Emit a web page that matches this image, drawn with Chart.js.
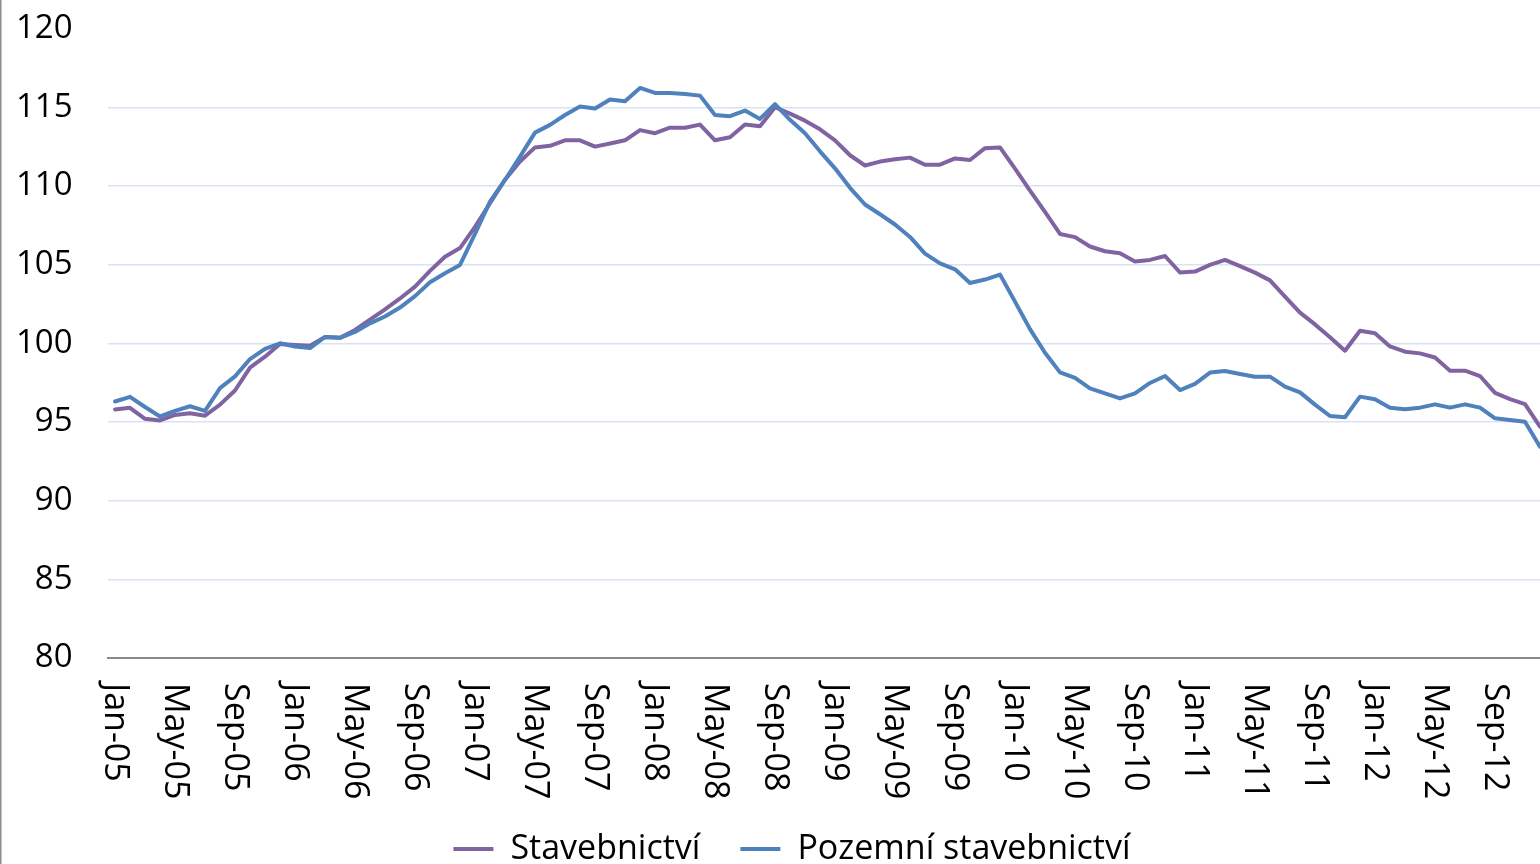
<!DOCTYPE html>
<html><head><meta charset="utf-8">
<script src="https://cdn.jsdelivr.net/npm/chart.js@4.4.1/dist/chart.umd.min.js"></script>
<style>
html,body{margin:0;padding:0;background:#fff;overflow:hidden;width:1540px;height:864px;}
#wrap{position:absolute;left:0;top:0;width:1584px;height:880px;}
</style></head><body>
<div id="wrap"><canvas id="c"></canvas></div>
<script>
const monthNames = ['Jan','Feb','Mar','Apr','May','Jun','Jul','Aug','Sep','Oct','Nov','Dec'];
const years = ['05','06','07','08','09','10','11','12'];
const categories = years.flatMap(y => monthNames.map(m => m + '-' + y));

const seriesNames = ['Stavebnictví', 'Pozemní stavebnictví'];

const stavebnictvi = [
  95.8, 95.9, 95.2, 95.1, 95.45, 95.55, 95.4, 96.1, 97.0, 98.45, 99.15, 99.95,
  99.9, 99.85, 100.4, 100.35, 100.85, 101.5, 102.15, 102.85, 103.6, 104.6, 105.5, 106.05,
  107.4, 108.9, 110.4, 111.55, 112.45, 112.55, 112.9, 112.9, 112.5, 112.7, 112.9, 113.55,
  113.35, 113.7, 113.7, 113.9, 112.9, 113.1, 113.9, 113.8, 115.0, 114.6, 114.15, 113.6,
  112.9, 111.95, 111.3, 111.55, 111.7, 111.8, 111.35, 111.35, 111.75, 111.65, 112.4, 112.45,
  111.1, 109.7, 108.35, 106.95, 106.75, 106.15, 105.85, 105.72, 105.2, 105.3, 105.55, 104.5,
  104.56, 104.98, 105.3, 104.9, 104.49, 104.0, 102.97, 101.95, 101.2, 100.38, 99.53, 100.8,
  100.64, 99.8, 99.47, 99.36, 99.1, 98.26, 98.26, 97.92, 96.85, 96.45, 96.14, 94.7
];

const pozemniStavebnictvi = [
  96.3, 96.6, 95.95, 95.35, 95.7, 96.0, 95.7, 97.15, 97.9, 99.0, 99.65, 100.0,
  99.8, 99.7, 100.4, 100.35, 100.72, 101.27, 101.7, 102.27, 103.0, 103.88, 104.45, 104.98,
  106.95, 109.0, 110.38, 111.86, 113.39, 113.88, 114.51, 115.05, 114.92, 115.49, 115.38, 116.23,
  115.91, 115.91, 115.85, 115.74, 114.51, 114.43, 114.79, 114.26, 115.2, 114.2, 113.35, 112.2,
  111.12, 109.88, 108.82, 108.2, 107.55, 106.76, 105.7, 105.08, 104.7, 103.83, 104.05, 104.37,
  102.65, 100.9, 99.4, 98.15, 97.8, 97.14, 96.82, 96.5, 96.82, 97.48, 97.92, 97.03,
  97.42, 98.14, 98.24, 98.05, 97.88, 97.88, 97.25, 96.88, 96.1, 95.38, 95.3, 96.61,
  96.44, 95.91, 95.81, 95.91, 96.12, 95.91, 96.12, 95.91, 95.23, 95.13, 95.02, 93.43
];

const yMin = 80, yMax = 120, yStep = 5;
const labelEvery = 4;

const FONT = '"Open Sans", sans-serif';

const xLabelPlugin = {
  id: 'xlabels',
  afterDraw(chart) {
    const xs = chart.scales.x, ctx = chart.ctx;
    const top = chart.chartArea.bottom + 25;
    ctx.save();
    ctx.font = '34px ' + FONT;
    ctx.fillStyle = '#000';
    ctx.textAlign = 'left';
    ctx.textBaseline = 'middle';
    categories.forEach((lab, i) => {
      if (i % labelEvery) return;
      const x = xs.getPixelForValue(i);
      ctx.save();
      ctx.translate(x, top);
      ctx.rotate(Math.PI / 2);
      ctx.fillText(lab, 0, 0);
      ctx.restore();
    });
    ctx.fillStyle = '#8c8c8c';
    ctx.fillRect(0, 0, 1.5, chart.height);
    ctx.restore();
  }
};

const legendShift = {
  id: 'legendShift',
  afterLayout(chart) {
    if (chart.legend) { chart.legend.left += 10.5; chart.legend.right += 10.5; }
  }
};

function build() {
  new Chart(document.getElementById('c'), {
    type: 'line',
    data: {
      labels: categories,
      datasets: [
        { label: seriesNames[0], data: stavebnictvi, borderColor: '#8064A2', backgroundColor: '#8064A2', borderWidth: 4, order: 1 },
        { label: seriesNames[1], data: pozemniStavebnictvi, borderColor: '#4F81BD', backgroundColor: '#4F81BD', borderWidth: 4, order: 0 }
      ]
    },
    options: {
      responsive: true,
      maintainAspectRatio: false,
      animation: false,
      devicePixelRatio: 1,
      layout: { padding: { left: 15.5, right: 36.5, top: 28.6, bottom: 4 } },
      elements: {
        point: { radius: 0, hoverRadius: 0 },
        line: { borderWidth: 4, tension: 0, borderJoinStyle: 'round', borderCapStyle: 'round' }
      },
      plugins: {
        tooltip: { enabled: false },
        legend: {
          position: 'bottom',
          labels: {
            usePointStyle: true,
            pointStyle: 'line',
            pointStyleWidth: 40,
            color: '#000',
            font: { family: FONT, size: 34 },
            padding: 40,
            sort: (a, b) => a.datasetIndex - b.datasetIndex
          }
        }
      },
      scales: {
        x: {
          type: 'category',
          offset: true,
          grid: { display: false },
          border: { display: true, color: '#898989', width: 2 },
          ticks: { display: false },
          afterFit(s) { s.height = 134; s.paddingLeft = 0; s.paddingRight = 0; s.paddingTop = 0; s.paddingBottom = 0; }
        },
        y: {
          min: yMin, max: yMax,
          ticks: { stepSize: yStep, padding: 35, color: '#000', font: { family: FONT, size: 33 } },
          grid: {
            drawTicks: false,
            lineWidth: 1.5,
            color: c => (c.tick && (c.tick.value === yMin || c.tick.value === yMax)) ? 'rgba(0,0,0,0)' : '#D9E2F1'
          },
          border: { display: false },
          afterFit(s) { s.width = 92; s.paddingTop = 0; s.paddingBottom = 0; s.paddingLeft = 0; s.paddingRight = 0; }
        }
      }
    },
    plugins: [xLabelPlugin, legendShift]
  });
}
if (document.fonts && document.fonts.load) {
  Promise.all([document.fonts.load('34px "Open Sans"')]).then(build, build);
} else { build(); }
</script>
</body></html>
